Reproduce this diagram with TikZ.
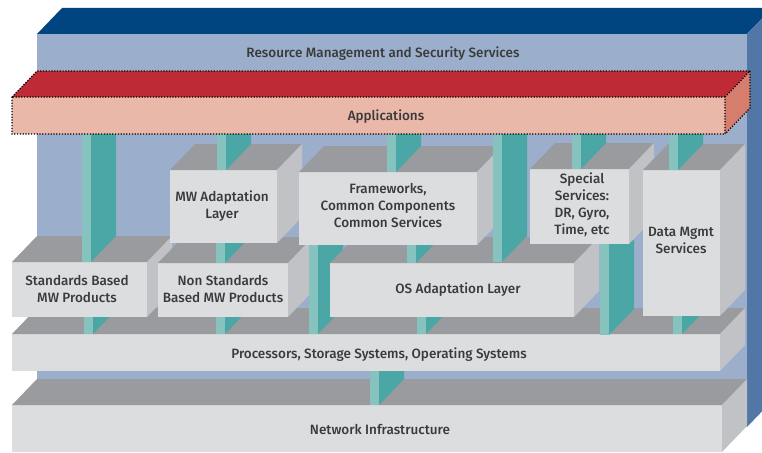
\documentclass[tikz,border=0pt]{standalone}
\usepackage{fontspec}
\setmainfont{Fira Sans Medium}

\definecolor{bgfront}{HTML}{9BAFCC}
\definecolor{bgtop}{HTML}{004480}
\definecolor{bgside}{HTML}{5276A6}
\definecolor{grfront}{HTML}{DCDDDF}
\definecolor{grtop}{HTML}{9A9B9E}
\definecolor{grside}{HTML}{C1C2C5}
\definecolor{teallight}{HTML}{86C3BF}
\definecolor{tealdark}{HTML}{4BA7A5}
\definecolor{apptop}{HTML}{BE2B36}
\definecolor{appfront}{HTML}{EAB8A9}
\definecolor{appside}{HTML}{D67E6E}
\definecolor{txt}{HTML}{3A3A3A}

% block: x1 y1 x2 y2 front top side
\newcommand{\drawblock}[7]{%
  \fill[#5] (#1,#2) rectangle (#3,#4);
  \fill[#6] (#1,#2) -- ++(25,-26) -- ({#3+25},{#2-26}) -- (#3,#2) -- cycle;
  \fill[#7] (#3,#2) -- ++(25,-26) -- ({#3+25},{#4-26}) -- (#3,#4) -- cycle;
}
\newcommand{\grayblock}[4]{\drawblock{#1}{#2}{#3}{#4}{grfront}{grtop}{grside}}
% pillar: x ytop ybot
\newcommand{\drawpillar}[3]{%
  \fill[teallight] (#1,#2) rectangle ({#1+9},#3);
  \fill[tealdark] ({#1+9},#2) -- ({#1+34},#2) -- ({#1+34},{#3-26}) -- ({#1+9},#3) -- cycle;
}

\tikzset{
  label/.style={text=txt, align=center, font=\fontsize{13.5}{17}\selectfont},
  dots/.style={draw=black, line width=1.2pt, dash pattern=on 1.2pt off 1.6pt}
}

\begin{document}
\begin{tikzpicture}[x=1pt,y=-1pt]
    \useasboundingbox (0,0) rectangle (762,452);
    \clip (0,0) rectangle (762,452);
    % back panel
    \drawblock{37}{34}{747}{427}{bgfront}{bgtop}{bgside}
    % bottom layers
    \grayblock{12}{405}{722}{452}
    \drawpillar{370}{365}{405}
    \grayblock{12}{334}{720}{371}
    \drawpillar{84}{300}{334}
    \drawpillar{216}{300}{334}
    \drawpillar{417}{300}{334}
    \drawpillar{673}{300}{334}
    % middle layer
    \grayblock{12}{262}{147}{317}
    \grayblock{158}{263}{288}{317}
    \drawpillar{309}{240}{334}
    \grayblock{330}{263}{574}{317}
    \drawpillar{82}{130}{262}
    \drawpillar{216}{230}{263}
    \drawpillar{407}{230}{263}
    \drawpillar{600}{240}{335}
    % upper layer
    \grayblock{170}{170}{277}{243}
    \grayblock{299}{172}{477}{245}
    \drawpillar{493}{130}{262}
    \grayblock{530}{169}{629}{244}
    \grayblock{643}{170}{720}{316}
    \drawpillar{217}{130}{170}
    \drawpillar{387}{130}{172}
    \drawpillar{572}{130}{169}
    \drawpillar{669}{130}{170}
    % applications
    \drawblock{12}{97}{725}{134}{appfront}{apptop}{appside}
    \draw[dots] (12,97) rectangle (725,134)
        (12,97) -- (37,71) -- (750,71) -- (725,97)
        (750,71) -- (750,108) -- (725,134);
    % labels
    \node[label] (res) at (383,54) {Resource Management and Security Services};
    \node[label] (app) at (386,117) {Applications};
    \node[label] (mwad) at (222,206) {MW Adaptation\\Layer};
    \node[label] (frame) at (388,205.5) {Frameworks,\\Common Components\\Common Services};
    \node[label] (spec) at (582,205) {Special\\Services:\\DR, Gyro,\\Time, etc};
    \node[label] (data) at (681,240) {Data Mgmt\\Services};
    \node[label] (std) at (77,289.5) {Standards Based\\MW Products};
    \node[label] (nonstd) at (223,289.5) {Non Standards\\Based MW Products};
    \node[label] (osad) at (458,290) {OS Adaptation Layer};
    \node[label] (proc) at (379,354.5) {Processors, Storage Systems, Operating Systems};
    \node[label] (net) at (380,429.5) {Network Infrastructure};
\end{tikzpicture}
\end{document}
